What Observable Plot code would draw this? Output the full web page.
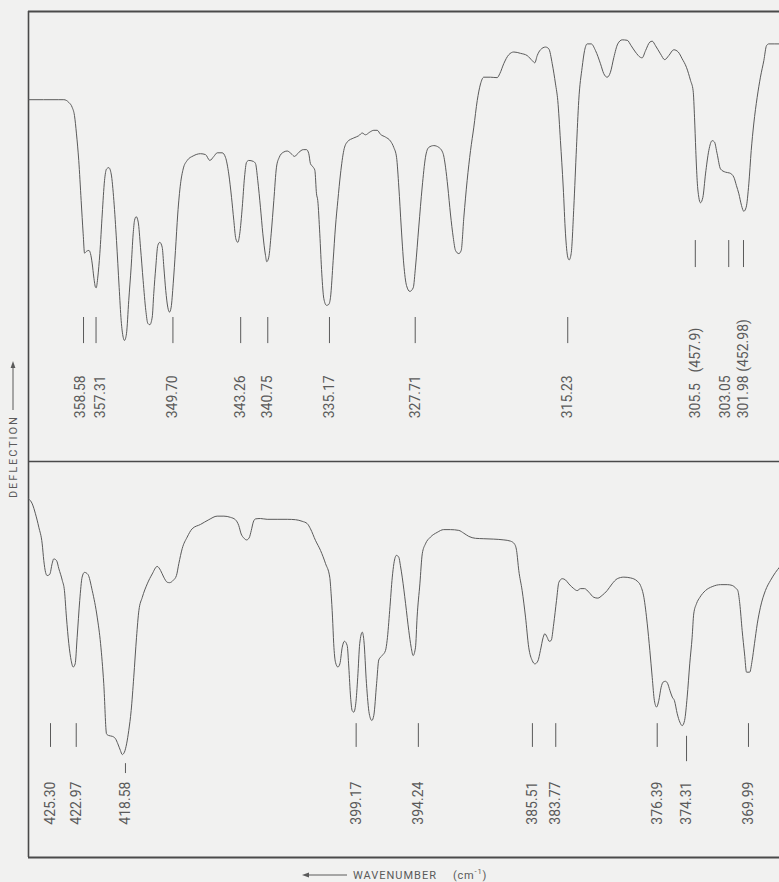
<!DOCTYPE html>
<html>
<head>
<meta charset="utf-8">
<script src="https://cdn.jsdelivr.net/npm/d3@7"></script>
<script src="https://cdn.jsdelivr.net/npm/@observablehq/plot@0.6"></script>
<style>
  html, body { margin: 0; padding: 0; background: #f1f1f0; }
  #wrap { position: relative; width: 779px; height: 882px; overflow: hidden; background: #f1f1f0; font-family: Roboto, sans-serif; }
  #top, #bottom { position: absolute; left: 0; }
  #top { top: 0; }
  #bottom { top: 461px; }
  #labels { position: absolute; left: 0; top: 0; pointer-events: none; }
</style>
</head>
<body>
<div id="wrap">
  <div id="top"></div>
  <div id="bottom"></div>
  <svg id="labels" width="779" height="882"></svg>
</div>
<script>
// ---------- DATA ----------
// Upper panel trace: wavelength (µm, the recorder is linear in wavelength) and deflection (% of full scale)
const topWavelength = [27.452, 27.692, 27.732, 27.771, 27.798, 27.816, 27.832, 27.850, 27.869, 27.885,
  27.896, 27.911, 27.930, 27.943, 27.957, 27.969, 27.983, 27.988, 28.001, 28.017,
  28.036, 28.054, 28.070, 28.088, 28.107, 28.128, 28.149, 28.170, 28.186, 28.202,
  28.212, 28.228, 28.246, 28.265, 28.281, 28.292, 28.305, 28.321, 28.339, 28.360,
  28.381, 28.397, 28.413, 28.432, 28.444, 28.460, 28.476, 28.492, 28.511, 28.524,
  28.539, 28.555, 28.569, 28.582, 28.598, 28.616, 28.634, 28.656, 28.677, 28.709,
  28.756, 28.814, 28.854, 28.888, 28.920, 28.947, 28.986, 29.012, 29.038, 29.060,
  29.078, 29.094, 29.110, 29.125, 29.145, 29.163, 29.179, 29.197, 29.232, 29.250,
  29.268, 29.289, 29.308, 29.329, 29.339, 29.355, 29.374, 29.395, 29.416, 29.438,
  29.469, 29.501, 29.533, 29.559, 29.593, 29.628, 29.654, 29.672, 29.685, 29.707,
  29.720, 29.733, 29.743, 29.759, 29.775, 29.791, 29.812, 29.830, 29.844, 29.865,
  29.883, 29.902, 29.923, 29.949, 29.976, 30.028, 30.068, 30.095, 30.121, 30.155,
  30.187, 30.214, 30.240, 30.279, 30.319, 30.345, 30.367, 30.385, 30.404, 30.424,
  30.446, 30.472, 30.499, 30.517, 30.543, 30.570, 30.596, 30.622, 30.662, 30.702,
  30.736, 30.755, 30.773, 30.794, 30.816, 30.834, 30.860, 30.879, 30.900, 30.926,
  30.953, 30.979, 31.006, 31.032, 31.058, 31.111, 31.164, 31.185, 31.216, 31.256,
  31.296, 31.349, 31.402, 31.441, 31.462, 31.481, 31.507, 31.547, 31.573, 31.600,
  31.626, 31.644, 31.665, 31.687, 31.705, 31.723, 31.734, 31.750, 31.771, 31.792,
  31.810, 31.837, 31.856, 31.877, 31.909, 31.943, 31.982, 32.008, 32.035, 32.061,
  32.088, 32.119, 32.154, 32.194, 32.225, 32.259, 32.299, 32.312, 32.339, 32.373,
  32.392, 32.418, 32.457, 32.491, 32.523, 32.563, 32.598, 32.629, 32.663, 32.695,
  32.716, 32.727, 32.737, 32.748, 32.761, 32.774, 32.793, 32.814, 32.840, 32.867,
  32.885, 32.906, 32.933, 32.972, 33.006, 33.038, 33.059, 33.078, 33.099, 33.117,
  33.136, 33.157, 33.176, 33.196, 33.223, 33.249, 33.276, 33.297, 33.315, 33.400];
const topDeflection = [80.4, 80.4, 80.4, 79.8, 78.7, 76.9, 72.8, 66.9, 58.0, 50.6,
  46.3, 46.7, 46.9, 46.2, 43.9, 41.0, 38.7, 38.6, 41.0, 46.2,
  55.0, 62.4, 65.0, 65.3, 63.9, 58.0, 49.1, 38.7, 31.3, 27.6,
  26.9, 28.4, 35.8, 43.2, 50.6, 53.6, 54.4, 53.2, 47.6, 40.2,
  33.6, 30.7, 30.4, 32.1, 37.3, 43.2, 48.0, 48.7, 47.6, 43.2,
  38.0, 34.3, 33.2, 34.3, 39.5, 46.9, 55.0, 61.7, 65.0, 66.9,
  67.9, 68.4, 68.2, 66.9, 67.8, 68.6, 68.6, 67.6, 63.9, 58.7,
  53.6, 49.5, 48.7, 50.6, 56.5, 63.2, 66.5, 66.9, 66.7, 66.2,
  62.4, 56.5, 50.6, 45.8, 44.4, 45.4, 50.6, 58.0, 65.4, 67.6,
  68.7, 69.0, 68.4, 67.8, 68.7, 69.3, 69.3, 68.4, 66.2, 65.4,
  64.7, 59.5, 58.0, 50.6, 41.7, 36.2, 34.7, 34.9, 36.5, 44.7,
  52.1, 58.0, 63.9, 69.1, 71.0, 71.9, 72.4, 73.0, 72.6, 73.2,
  73.6, 73.6, 72.7, 72.1, 71.2, 69.8, 67.6, 61.0, 52.1, 43.9,
  39.1, 37.8, 38.6, 43.2, 52.1, 61.0, 67.6, 69.8, 70.2, 69.8,
  68.4, 65.4, 61.0, 55.0, 49.8, 46.9, 46.2, 46.9, 54.3, 62.4,
  69.1, 74.3, 80.2, 83.9, 85.4, 85.4, 85.3, 86.2, 88.4, 90.4,
  91.0, 90.7, 90.2, 89.1, 88.6, 90.2, 91.5, 92.1, 91.7, 88.4,
  83.9, 80.2, 71.3, 61.0, 50.6, 45.4, 44.8, 46.2, 56.5, 69.8,
  80.2, 87.6, 91.3, 92.8, 92.8, 91.3, 88.4, 86.2, 85.4, 86.5,
  89.8, 92.8, 93.7, 93.6, 92.4, 91.0, 89.8, 89.7, 91.3, 93.2,
  93.4, 92.4, 90.6, 89.3, 90.2, 91.5, 91.0, 89.5, 87.6, 84.7,
  82.4, 76.5, 69.1, 62.4, 58.7, 57.5, 58.7, 63.9, 69.1, 71.3,
  71.0, 68.4, 65.0, 64.3, 64.1, 63.2, 61.3, 59.5, 56.9, 55.6,
  56.5, 61.7, 69.1, 75.0, 80.9, 85.4, 89.1, 92.4, 92.8, 92.8];

// Lower panel trace
const bottomWavelength = [23.402, 23.421, 23.437, 23.454, 23.471, 23.479, 23.488, 23.496, 23.509, 23.521,
  23.529, 23.543, 23.555, 23.572, 23.583, 23.593, 23.605, 23.617, 23.627, 23.637,
  23.647, 23.660, 23.672, 23.684, 23.701, 23.723, 23.748, 23.765, 23.781, 23.795,
  23.806, 23.824, 23.840, 23.852, 23.865, 23.874, 23.885, 23.896, 23.907, 23.919,
  23.932, 23.946, 23.958, 23.975, 24.000, 24.025, 24.050, 24.067, 24.083, 24.101,
  24.112, 24.131, 24.147, 24.159, 24.176, 24.201, 24.226, 24.268, 24.310, 24.352,
  24.386, 24.419, 24.444, 24.461, 24.473, 24.486, 24.500, 24.513, 24.524, 24.534,
  24.545, 24.570, 24.604, 24.654, 24.705, 24.747, 24.780, 24.806, 24.822, 24.847,
  24.873, 24.898, 24.919, 24.926, 24.933, 24.939, 24.948, 24.960, 24.970, 24.982,
  24.993, 25.007, 25.015, 25.024, 25.032, 25.040, 25.050, 25.060, 25.070, 25.083,
  25.091, 25.104, 25.118, 25.131, 25.141, 25.155, 25.166, 25.183, 25.200, 25.208,
  25.221, 25.234, 25.242, 25.255, 25.267, 25.275, 25.284, 25.301, 25.317, 25.329,
  25.339, 25.351, 25.359, 25.373, 25.385, 25.401, 25.426, 25.460, 25.493, 25.527,
  25.569, 25.594, 25.619, 25.653, 25.695, 25.745, 25.796, 25.829, 25.849, 25.860,
  25.871, 25.888, 25.905, 25.921, 25.939, 25.952, 25.967, 25.980, 25.994, 26.002,
  26.014, 26.024, 26.034, 26.047, 26.061, 26.073, 26.090, 26.106, 26.123, 26.148,
  26.165, 26.182, 26.202, 26.224, 26.249, 26.269, 26.291, 26.316, 26.341, 26.367,
  26.400, 26.434, 26.467, 26.484, 26.501, 26.518, 26.531, 26.543, 26.554, 26.565,
  26.576, 26.588, 26.598, 26.610, 26.621, 26.632, 26.644, 26.655, 26.669, 26.682,
  26.694, 26.706, 26.719, 26.732, 26.744, 26.752, 26.766, 26.783, 26.811, 26.845,
  26.887, 26.921, 26.946, 26.962, 26.974, 26.984, 26.996, 27.008, 27.018, 27.034,
  27.046, 27.058, 27.072, 27.088, 27.113, 27.139, 27.164, 27.184];
const bottomDeflection = [90.6, 89.3, 86.8, 83.4, 79.2, 75.0, 72.0, 71.2, 71.5, 74.2,
  75.4, 75.0, 72.9, 70.0, 67.4, 60.7, 54.0, 49.7, 48.1, 48.9,
  55.6, 64.9, 70.8, 72.0, 71.5, 67.4, 60.7, 54.0, 43.9, 31.2,
  30.8, 30.6, 30.0, 28.7, 27.0, 26.0, 26.6, 28.7, 32.1, 37.1,
  45.5, 55.6, 62.4, 65.7, 69.1, 71.6, 73.5, 72.5, 70.8, 69.5,
  69.4, 70.0, 71.2, 74.2, 78.0, 80.9, 83.0, 84.1, 85.3, 86.2,
  86.2, 85.9, 85.3, 83.8, 81.7, 80.7, 80.2, 80.7, 82.6, 84.7,
  85.5, 85.6, 85.4, 85.4, 85.4, 85.3, 84.9, 84.3, 83.0, 80.1,
  77.5, 74.2, 70.8, 66.6, 60.7, 54.0, 49.3, 48.1, 48.9, 53.1,
  54.6, 53.5, 48.1, 40.5, 37.1, 36.7, 38.8, 45.5, 54.0, 56.9,
  54.8, 43.9, 36.3, 34.6, 35.9, 43.9, 49.9, 51.0, 52.3, 54.8,
  62.4, 70.8, 74.2, 76.3, 75.8, 73.7, 70.8, 64.1, 57.3, 53.1,
  51.0, 53.1, 60.7, 69.1, 76.7, 79.2, 80.9, 82.1, 82.8, 82.8,
  82.6, 81.9, 81.1, 80.6, 80.5, 80.4, 80.2, 79.9, 79.2, 77.5,
  72.5, 67.4, 60.7, 53.1, 49.7, 48.9, 49.6, 52.3, 55.6, 56.5,
  55.6, 54.6, 54.8, 59.0, 64.9, 69.5, 70.4, 70.1, 69.1, 67.9,
  67.4, 67.9, 67.9, 67.0, 65.7, 65.5, 66.2, 67.4, 69.1, 70.4,
  70.8, 70.6, 69.8, 68.7, 65.7, 59.0, 52.3, 45.5, 39.6, 38.0,
  39.6, 43.0, 44.3, 44.5, 43.9, 42.2, 40.5, 39.6, 36.3, 34.2,
  33.3, 34.6, 40.5, 48.9, 55.6, 61.5, 64.1, 65.7, 67.4, 68.4,
  68.9, 68.9, 68.7, 68.1, 67.4, 64.1, 57.3, 51.4, 46.8, 46.8,
  49.7, 54.0, 59.0, 63.2, 67.4, 70.0, 72.0, 73.3];

// Marked band positions (wavenumber, cm^-1) and their labels
const topPeaks = [358.58, 357.31, 349.70, 343.26, 340.75, 335.17, 327.71, 315.23, 305.5, 303.05, 301.98];
const topPeakLabels = ["358.58", "357.31", "349.70", "343.26", "340.75", "335.17", "327.71", "315.23",
  "305.5\u2002 (457.9)", "303.05", "301.98 (452.98)"];
const topRaisedPeaks = [305.5, 303.05, 301.98];
const topLabelsPushedLeft = [358.58, 303.05];
const topLabelsPushedRight = [357.31];

const bottomPeaks = [425.30, 422.97, 418.58, 399.17, 394.24, 385.51, 383.77, 376.39, 374.31, 369.99];
const bottomPeakLabels = ["425.30", "422.97", "418.58", "399.17", "394.24", "385.51", "383.77", "376.39", "374.31", "369.99"];
const bottomShortPeaks = [418.58];
const bottomLoweredPeaks = [374.31];

// ---------- BUILD ----------
const ink = "#5a5a5a";
const frameInk = "#4a4a4a";
const font = "Roboto, 'Liberation Sans', sans-serif";
const toUm = p => 1e4 / p.nu;

const topData = topWavelength.map((w, i) => ({w, d: topDeflection[i]}));
const bottomData = bottomWavelength.map((w, i) => ({w, d: bottomDeflection[i]}));
const topPeakData = topPeaks.map((nu, i) => ({nu, label: topPeakLabels[i]}));
const bottomPeakData = bottomPeaks.map((nu, i) => ({nu, label: bottomPeakLabels[i]}));

const labelStyle = {rotate: -90, textAnchor: "start", fontSize: 14, fill: ink, fontFamily: font};

const topPlot = Plot.plot({
  width: 779, height: 462,
  marginTop: 11, marginBottom: 1, marginLeft: 28, marginRight: 0,
  x: {domain: [27.452, 33.400], axis: null},
  y: {domain: [0, 100], axis: null},
  style: {background: "transparent", overflow: "visible"},
  marks: [
    Plot.ruleY([100], {stroke: frameInk, strokeWidth: 2}),
    Plot.ruleY([0], {stroke: frameInk, strokeWidth: 1.6}),
    Plot.ruleX([27.452], {stroke: frameInk, strokeWidth: 1.6}),
    Plot.line(topData, {x: "w", y: "d", stroke: ink, strokeWidth: 1, curve: "monotone-x"}),
    Plot.ruleX(topPeakData.filter(p => !topRaisedPeaks.includes(p.nu)), {x: toUm, y1: 26.2, y2: 32.0, stroke: ink, strokeWidth: 1}),
    Plot.ruleX(topPeakData.filter(p => topRaisedPeaks.includes(p.nu)), {x: toUm, y1: 43.1, y2: 49.1, stroke: ink, strokeWidth: 1}),
    Plot.text(topPeakData.filter(p => !topLabelsPushedLeft.includes(p.nu) && !topLabelsPushedRight.includes(p.nu)),
      {x: toUm, y: 9.6, text: "label", ...labelStyle}),
    Plot.text(topPeakData.filter(p => topLabelsPushedLeft.includes(p.nu)),
      {x: toUm, y: 9.6, text: "label", dx: -3, ...labelStyle}),
    Plot.text(topPeakData.filter(p => topLabelsPushedRight.includes(p.nu)),
      {x: toUm, y: 9.6, text: "label", dx: 4, ...labelStyle})
  ]
});
document.getElementById("top").appendChild(topPlot);

const plainBottom = bottomPeakData.filter(p => !bottomShortPeaks.includes(p.nu) && !bottomLoweredPeaks.includes(p.nu));
const bottomPlot = Plot.plot({
  width: 779, height: 421,
  marginTop: 0, marginBottom: 25, marginLeft: 28, marginRight: 0,
  x: {domain: [23.402, 27.184], axis: null},
  y: {domain: [0, 100], axis: null},
  style: {background: "transparent", overflow: "visible"},
  marks: [
    Plot.ruleY([0], {stroke: frameInk, strokeWidth: 2}),
    Plot.ruleX([23.402], {stroke: frameInk, strokeWidth: 1.6}),
    Plot.line(bottomData, {x: "w", y: "d", stroke: ink, strokeWidth: 1, curve: "monotone-x"}),
    Plot.ruleX(plainBottom, {x: toUm, y1: 27.8, y2: 33.8, stroke: ink, strokeWidth: 1}),
    Plot.ruleX(bottomPeakData.filter(p => bottomShortPeaks.includes(p.nu)), {x: toUm, y1: 21.2, y2: 23.7, stroke: ink, strokeWidth: 1}),
    Plot.ruleX(bottomPeakData.filter(p => bottomLoweredPeaks.includes(p.nu)), {x: toUm, y1: 24.2, y2: 30.6, stroke: ink, strokeWidth: 1}),
    Plot.text(bottomPeakData, {x: toUm, y: 8.3, text: "label", ...labelStyle})
  ]
});
document.getElementById("bottom").appendChild(bottomPlot);

// ---------- AXIS TITLES ----------
const svg = d3.select("#labels");
const g = svg.append("g").attr("fill", ink).attr("font-family", font);
// vertical: DEFLECTION with upward arrow
g.append("text")
  .attr("transform", "translate(13,498) rotate(-90)")
  .attr("dominant-baseline", "central")
  .attr("font-size", 11).attr("letter-spacing", 1.9)
  .text("DEFLECTION");
svg.append("line").attr("x1", 13).attr("x2", 13).attr("y1", 410).attr("y2", 366)
  .attr("stroke", ink).attr("stroke-width", 1);
svg.append("polygon").attr("points", "13,361 10.6,368 15.4,368").attr("fill", ink);
// horizontal: WAVENUMBER (cm^-1) with leftward arrow
svg.append("line").attr("x1", 308).attr("x2", 347).attr("y1", 875).attr("y2", 875)
  .attr("stroke", ink).attr("stroke-width", 1);
svg.append("polygon").attr("points", "302,875 309,872.6 309,877.4").attr("fill", ink);
g.append("text")
  .attr("x", 353).attr("y", 875).attr("dominant-baseline", "central")
  .attr("font-size", 11).attr("letter-spacing", 1)
  .text("WAVENUMBER");
const unit = g.append("text")
  .attr("x", 453).attr("y", 875).attr("dominant-baseline", "central")
  .attr("font-size", 11).attr("letter-spacing", 0.8);
unit.append("tspan").text("(cm");
unit.append("tspan").attr("dy", -4).attr("font-size", 7.5).text("-1");
unit.append("tspan").attr("dy", 4).text(")");
</script>
</body>
</html>
